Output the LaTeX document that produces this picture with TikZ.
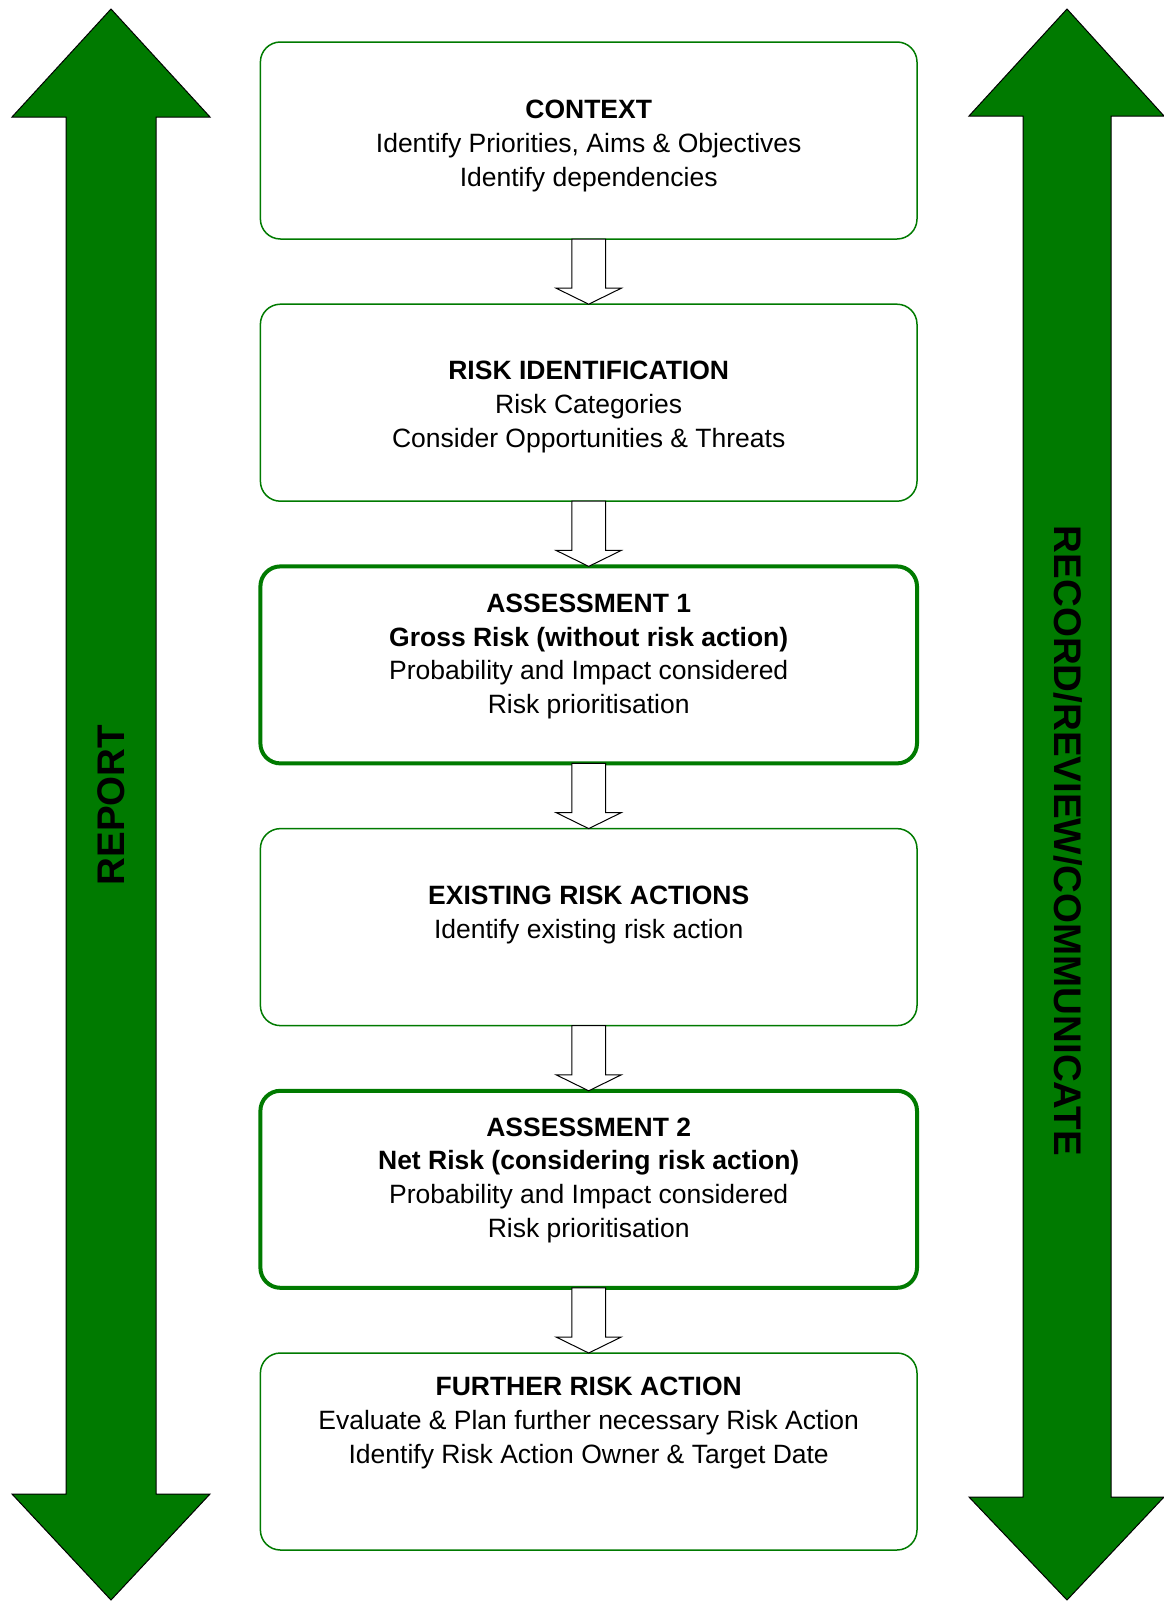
\documentclass[tikz,border=0pt]{standalone}
\usepackage{fontspec}
\setmainfont{Liberation Sans}
\usetikzlibrary{calc}
\definecolor{riskgreen}{RGB}{0,122,0}
\newcommand{\boxfont}{\fontsize{26.5}{33.7}\selectfont}
\newcommand{\sidefont}{\fontsize{38.5}{40}\selectfont\bfseries}
% hollow block arrow from the bottom of one stage to the top of the next
\newcommand{\flowarrow}[2]{%
  \draw[flow] ($(#1.south)+(-16.9,0)$) -- ($(#2.north)+(-16.9,16)$)
    -- ($(#2.north)+(-32.6,16)$) -- (#2.north) -- ($(#2.north)+(32.6,16)$)
    -- ($(#2.north)+(16.9,16)$) -- ($(#1.south)+(16.9,0)$) -- cycle;}

\begin{document}
\begin{tikzpicture}[x=1pt,y=1pt]
\tikzstyle{every node}+=[inner sep=0pt, outer sep=0pt]
\tikzstyle{stage}=[draw=riskgreen, line width=1.5pt, rounded corners=20pt, minimum width=656.6pt, minimum height=197pt]
\tikzstyle{keystage}=[stage, line width=4pt]
\tikzstyle{words}=[font=\boxfont, align=center]
\tikzstyle{flow}=[draw=black, fill=white, line width=1pt, line join=miter]
\tikzstyle{banner}=[draw=black, fill=riskgreen, line width=1pt]
\useasboundingbox (0,0) rectangle (1164,-1601);

% side arrows
\draw[banner] (111,-9) -- (210,-117) -- (156,-117) -- (156,-1494) -- (210,-1494) -- (111,-1600)
  -- (12,-1494) -- (66,-1494) -- (66,-117) -- (12,-117) -- cycle;
\draw[banner] (1067,-9) -- (1164,-116) -- (1111,-116) -- (1111,-1497) -- (1164,-1497) -- (1067,-1600)
  -- (969,-1497) -- (1023,-1497) -- (1023,-116) -- (969,-116) -- cycle;
\node[font=\sidefont, rotate=90] (report) at (111,-805) {REPORT};
\node[font=\sidefont, rotate=-90] (record) at (1068,-841) {RECORD/REVIEW/COMMUNICATE};

% stages
\node[stage] (context) at (588.7,-140.5) {};
\node[stage] (ident) at (588.7,-402.7) {};
\node[keystage] (assess1) at (588.7,-664.9) {};
\node[stage] (existing) at (588.7,-927.1) {};
\node[keystage] (assess2) at (588.7,-1189.3) {};
\node[stage] (further) at (588.7,-1451.5) {};

\node[words] (contextText) at (588.7,-146) {\textbf{CONTEXT}\\Identify Priorities, Aims \& Objectives\\Identify dependencies};
\node[words] (identText) at (588.7,-406.8) {\textbf{RISK IDENTIFICATION}\\Risk Categories\\Consider Opportunities \& Threats};
\node[words] (assess1Text) at (588.7,-656.5) {\textbf{ASSESSMENT 1}\\\textbf{Gross Risk (without risk action)}\\Probability and Impact considered\\Risk prioritisation};
\node[words] (existingText) at (588.7,-914.8) {\textbf{EXISTING RISK ACTIONS}\\Identify existing risk action};
\node[words] (assess2Text) at (588.7,-1180.3) {\textbf{ASSESSMENT 2}\\\textbf{Net Risk (considering risk action)}\\Probability and Impact considered\\Risk prioritisation};
\node[words] (furtherText) at (588.7,-1422.8) {\textbf{FURTHER RISK ACTION}\\Evaluate \& Plan further necessary Risk Action\\Identify Risk Action Owner \& Target Date};

% flow between stages
\foreach \a/\b in {context/ident, ident/assess1, assess1/existing, existing/assess2, assess2/further}
  {\flowarrow{\a}{\b}}
\end{tikzpicture}
\end{document}
